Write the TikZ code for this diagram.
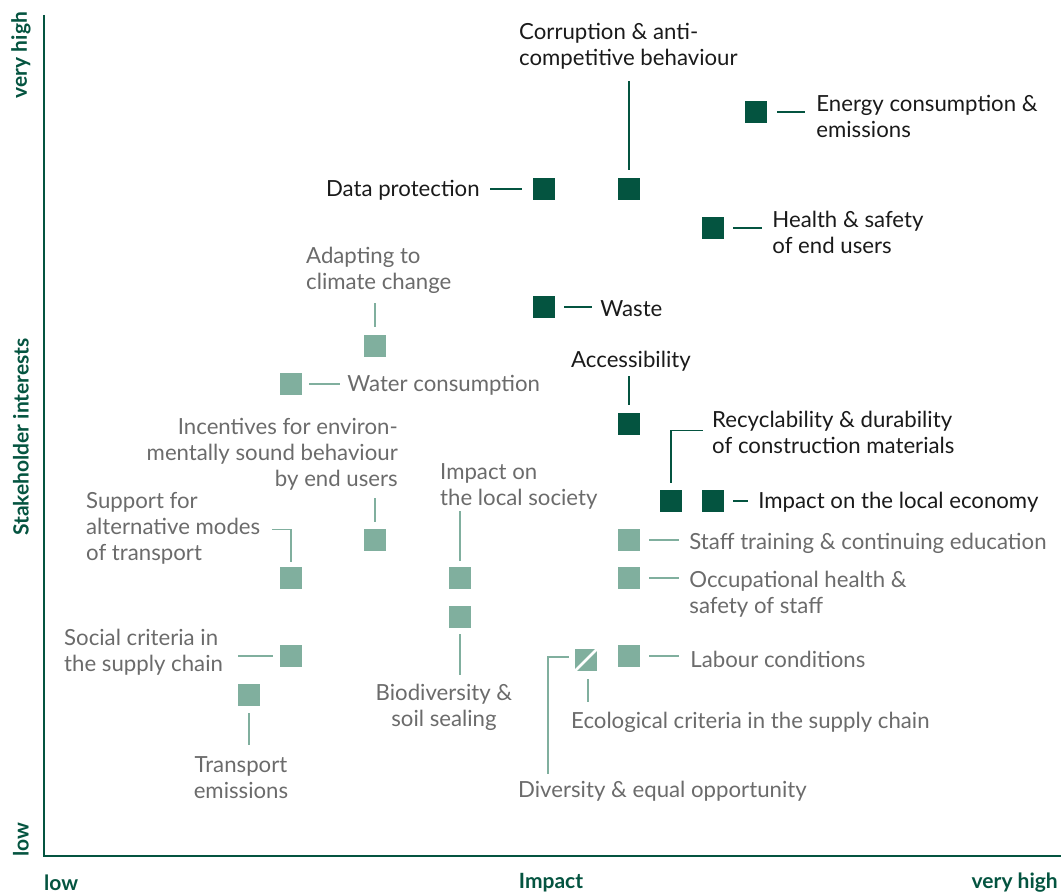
\documentclass[tikz,border=0pt]{standalone}
\usepackage{fontspec}
\setmainfont{Lato}
\newfontfamily\axisfont{Lato}
\usetikzlibrary{positioning}
\definecolor{darkgreen}{HTML}{045440}
\definecolor{lightgreen}{HTML}{80AF9E}
\definecolor{darktext}{HTML}{1A1A1A}
\definecolor{greytext}{HTML}{6B6B6B}

\begin{document}
\begin{tikzpicture}[x=1pt, y=1pt]
        % Styles
        \tikzstyle{hi} = [fill=darkgreen, minimum size=22pt, inner sep=0]
        \tikzstyle{lo} = [fill=lightgreen, minimum size=22pt, inner sep=0]
        \tikzstyle{hilabel} = [inner sep=0, text=darktext, align=left, yshift=-1.5pt,
                               font=\fontsize{22.2}{26}\selectfont]
        \tikzstyle{lolabel} = [hilabel, text=greytext]
        \tikzstyle{hiline} = [darkgreen, line width=1.2pt]
        \tikzstyle{loline} = [lightgreen, line width=1.2pt]
        \tikzstyle{axislabel} = [darkgreen, inner sep=0,
                                 font=\axisfont\bfseries\fontsize{21}{23}\selectfont]

        \useasboundingbox (0,0) rectangle (1061,895);

        % Axes
        \draw[darkgreen, line width=2.6pt] (44,880) -- (44,39) -- (1061,39);
        \node[axislabel, rotate=90] (yhigh) at (21,840) {very high};
        \node[axislabel, rotate=90] (ytitle) at (21,458) {Stakeholder interests};
        \node[axislabel, rotate=90] (ylow) at (21,55) {low};
        \node[axislabel, anchor=west] (xlow) at (44,12) {low};
        \node[axislabel] (xtitle) at (551,12) {Impact};
        \node[axislabel, anchor=east] (xhigh) at (1058,12) {very high};

        % Topics with high stakeholder interest - dark squares
        \node[hi] (energy) at (756,783) {};
        \node[hi] (dataprot) at (544,706) {};
        \node[hi] (corrupt) at (629,706) {};
        \node[hi] (health) at (713,667) {};
        \node[hi] (waste) at (544,588) {};
        \node[hi] (access) at (629,471) {};
        \node[hi] (recycle) at (671,394) {};
        \node[hi] (economy) at (713,394) {};

        % Other topics - light squares
        \node[lo] (adapt) at (375,549) {};
        \node[lo] (water) at (291,511) {};
        \node[lo] (staff) at (629,355) {};
        \node[lo] (incent) at (375,355) {};
        \node[lo] (support) at (291,317) {};
        \node[lo] (society) at (460,317) {};
        \node[lo] (occup) at (629,317) {};
        \node[lo] (biodiv) at (460,278) {};
        \node[lo] (social) at (291,239) {};
        \node[lo] (labour) at (629,239) {};
        \node[lo] (ecodiv) at (586,235) {};
        \node[lo] (transport) at (249,200) {};

        % Split square shared by two topics
        \draw[white, line width=2.5pt] (ecodiv.south west) -- (ecodiv.north east);

        % Labels of dark squares
        \node[hilabel, anchor=west] (energy_lbl) at ([xshift=49pt, yshift=-3pt]energy.east)
            {Energy consumption \&\\emissions};
        \node[hilabel, anchor=east] (dataprot_lbl) at ([xshift=-53pt]dataprot.west) {Data protection};
        \node[hilabel, anchor=west] (corrupt_lbl) at (519,850)
            {Corruption \& anti-\\competitive behaviour};
        \node[hilabel, anchor=west] (health_lbl) at ([xshift=48pt, yshift=-3pt]health.east)
            {Health \& safety\\of end users};
        \node[hilabel, anchor=west] (waste_lbl) at ([xshift=45pt]waste.east) {Waste};
        \node[hilabel, anchor=west] (access_lbl) at (571,535) {Accessibility};
        \node[hilabel, anchor=west] (recycle_lbl) at (712,464.5)
            {Recyclability \& durability\\of construction materials};
        \node[hilabel, anchor=west] (economy_lbl) at ([xshift=34pt]economy.east)
            {Impact on the local economy};

        % Labels of light squares
        \node[lolabel, anchor=west] (adapt_lbl) at (306,626) {Adapting to\\climate change};
        \node[lolabel, anchor=west] (water_lbl) at ([xshift=45pt]water.east) {Water consumption};
        \node[lolabel, anchor=west] (staff_lbl) at ([xshift=49pt, yshift=-2pt]staff.east)
            {Staff training \& continuing education};
        \node[lolabel, anchor=east, align=right] (incent_lbl) at (398,442)
            {Incentives for environ-\\mentally sound behaviour\\by end users};
        \node[lolabel, anchor=west] (society_lbl) at (440,410.5) {Impact on\\the local society};
        \node[lolabel, anchor=west] (support_lbl) at (86,368)
            {Support for\\alternative modes\\of transport};
        \node[lolabel, anchor=west] (occup_lbl) at ([xshift=49pt, yshift=-15pt]occup.east)
            {Occupational health \&\\safety of staff};
        \node[lolabel, align=center] (biodiv_lbl) at (444,189.5) {Biodiversity \&\\soil sealing};
        \node[lolabel, anchor=west] (social_lbl) at (64,244) {Social criteria in\\the supply chain};
        \node[lolabel, anchor=west] (labour_lbl) at ([xshift=50pt, yshift=-2pt]labour.east)
            {Labour conditions};
        \node[lolabel, anchor=west] (eco_lbl) at (571,174) {Ecological criteria in the supply chain};
        \node[lolabel, anchor=west] (diversity_lbl) at (518,105) {Diversity \& equal opportunity};
        \node[lolabel, align=center] (transport_lbl) at (241,119) {Transport\\emissions};

        % Connectors of dark squares
        \draw[hiline] ([xshift=10pt]energy.east) -- ([xshift=-11pt]energy.east -| energy_lbl.west);
        \draw[hiline] ([xshift=-11pt]dataprot.west) -- ([xshift=10pt]dataprot.west -| dataprot_lbl.east);
        \draw[hiline] ([yshift=8pt]corrupt.north) -- ([yshift=-11.5pt]corrupt.north |- corrupt_lbl.south);
        \draw[hiline] ([xshift=9pt]health.east) -- ([xshift=-10pt]health.east -| health_lbl.west);
        \draw[hiline] ([xshift=9pt]waste.east) -- ([xshift=-8pt]waste.east -| waste_lbl.west);
        \draw[hiline] ([yshift=8pt]access.north) -- ([yshift=-4.5pt]access.north |- access_lbl.south);
        \draw[hiline] ([yshift=7pt]recycle.north) |- ([xshift=-9pt, yshift=1.5pt]recycle_lbl.west);
        \draw[hiline] ([xshift=9pt]economy.east) -- ([xshift=-10pt]economy.east -| economy_lbl.west);

        % Connectors of light squares
        \draw[loline] ([yshift=8pt]adapt.north) -- ([yshift=-9.5pt]adapt.north |- adapt_lbl.south);
        \draw[loline] ([xshift=7pt]water.east) -- ([xshift=-7pt]water.east -| water_lbl.west);
        \draw[loline] ([xshift=9pt]staff.east) -- ([xshift=-10pt]staff.east -| staff_lbl.west);
        \draw[loline] ([yshift=7pt]incent.north) -- ([yshift=-7.5pt]incent.north |- incent_lbl.south);
        \draw[loline] ([yshift=6pt]society.north) -- ([yshift=-1.5pt]society.north |- society_lbl.south);
        \draw[loline] ([yshift=5pt]support.north) |- ([xshift=12pt, yshift=-1pt]support_lbl.east);
        \draw[loline] ([xshift=9pt]occup.east) -- ([xshift=-10pt]occup.east -| occup_lbl.west);
        \draw[loline] ([yshift=-6pt]biodiv.south) -- ([yshift=8.5pt]biodiv.south |- biodiv_lbl.north);
        \draw[loline] ([xshift=-7pt]social.west) -- ([xshift=15pt]social.west -| social_lbl.east);
        \draw[loline] ([xshift=9pt]labour.east) -- ([xshift=-11pt]labour.east -| labour_lbl.west);
        \draw[loline] ([xshift=2pt, yshift=-8pt]ecodiv.south) -- ([xshift=2pt, yshift=10.5pt]ecodiv.south |- eco_lbl.north);
        \draw[loline] ([xshift=-6pt, yshift=3pt]ecodiv.west) -| ([xshift=30pt, yshift=7.5pt]diversity_lbl.north west);
        \draw[loline] ([yshift=-7pt]transport.south) -- ([yshift=11.5pt]transport.south |- transport_lbl.north);
\end{tikzpicture}
\end{document}
